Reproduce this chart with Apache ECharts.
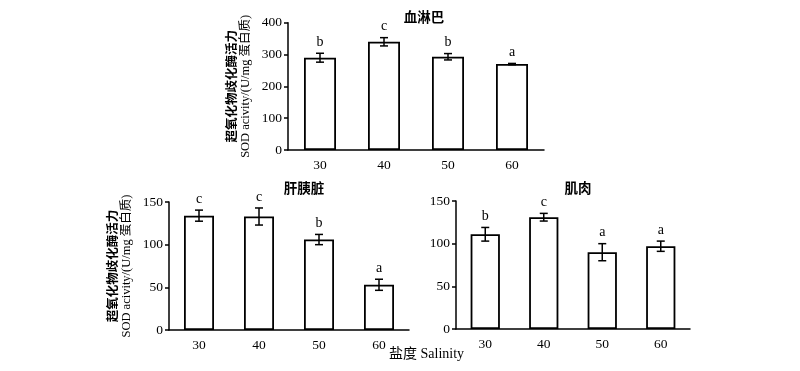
<!DOCTYPE html>
<html><head><meta charset="utf-8">
<script src="https://cdn.jsdelivr.net/npm/echarts@6/dist/echarts.min.js"></script>
<style>html,body{margin:0;padding:0;background:#fff}#c{width:800px;height:371px}</style>
</head><body><div id="c"></div>
<script>
var categories = ['30','40','50','60'];
var hemoValues = [290, 340, 293, 270];
var hemoErrors = [14, 13, 10, 2];
var hemoLetters = ['b','c','b','a'];
var hepaValues = [134, 133, 106, 53];
var hepaErrors = [6.5, 10, 6, 6.5];
var hepaLetters = ['c','c','b','a'];
var muscValues = [111, 131, 90, 97];
var muscErrors = [8, 4.5, 10, 6];
var muscLetters = ['b','c','a','a'];

var FONT = '"Liberation Serif","Noto Sans CJK SC",serif';
var chart = echarts.init(document.getElementById('c'));

function errData(vals, errs){
  return vals.map(function(v,i){return [i, v, errs[i]];});
}
function makeRender(letters){
  return function(params, api){
    var i = api.value(0), v = api.value(1), e = api.value(2);
    var top = api.coord([i, v+e]);
    var bot = api.coord([i, v-e]);
    var cap = 4;
    var style = {stroke:'#000', lineWidth:1.5};
    return {type:'group', children:[
      {type:'line', shape:{x1:top[0],y1:top[1],x2:bot[0],y2:bot[1]}, style:style},
      {type:'line', shape:{x1:top[0]-cap,y1:top[1],x2:top[0]+cap,y2:top[1]}, style:style},
      {type:'line', shape:{x1:bot[0]-cap,y1:bot[1],x2:bot[0]+cap,y2:bot[1]}, style:style},
      {type:'text', style:{text:letters[params.dataIndex], x:top[0], y:top[1]-4,
        textAlign:'center', textVerticalAlign:'bottom', font:'14px '+FONT, fill:'#000'}}
    ]};
  };
}

var yName = '{a|超氧化物歧化酶活力}\n{b|SOD acivity/(U/mg 蛋白质)}';
function yAxis(gi, max, interval, gap, showName){
  return {type:'value', gridIndex:gi, min:0, max:max, interval:interval,
    name: showName ? yName : '', nameLocation:'middle', nameRotate:90, nameGap:gap,
    nameTextStyle:{fontFamily:FONT, fontSize:12.5, color:'#000', lineHeight:13,
      rich:{a:{fontFamily:FONT, fontSize:12.5, fontWeight:'bold', color:'#000', lineHeight:13},
            b:{fontFamily:FONT, fontSize:12.5, color:'#000', lineHeight:13}}},
    axisLine:{show:true, lineStyle:{color:'#000', width:1.5}},
    axisTick:{show:true, inside:false, length:4, lineStyle:{color:'#000', width:1.5}},
    axisLabel:{fontFamily:FONT, fontSize:13.5, color:'#000', margin:6},
    splitLine:{show:false}};
}
function xAxis(gi){
  return {type:'category', gridIndex:gi, data:categories, boundaryGap:true,
    axisLine:{show:true, lineStyle:{color:'#000', width:1.5}},
    axisTick:{show:false},
    axisLabel:{fontFamily:FONT, fontSize:13.5, color:'#000', margin:9}};
}
function bars(gi, vals){
  return {type:'bar', xAxisIndex:gi, yAxisIndex:gi, data:vals, barWidth:'50%',
    itemStyle:{color:'#fff', borderColor:'#000', borderWidth:1.8}, silent:true};
}
function errs(gi, vals, es, letters){
  return {type:'custom', xAxisIndex:gi, yAxisIndex:gi, data:errData(vals, es),
    renderItem:makeRender(letters), silent:true, z:5};
}
var titleStyle = {fontFamily:FONT, fontSize:13.5, fontWeight:'bold', color:'#000'};

chart.setOption({
  animation:false,
  backgroundColor:'#fff',
  title:[
    {text:'血淋巴', left:419, top:7, textAlign:'center', textStyle:titleStyle},
    {text:'肝胰脏', left:299, top:178, textAlign:'center', textStyle:titleStyle},
    {text:'肌肉', left:573, top:178, textAlign:'center', textStyle:titleStyle}
  ],
  graphic:[{type:'text', left:389, top:347, style:{text:'盐度 Salinity', font:'14px '+FONT, fill:'#000'}}],
  grid:[
    {left:288, top:22.7, width:256, height:127.3},
    {left:169, top:202, width:240, height:128},
    {left:456, top:201, width:234, height:128}
  ],
  xAxis:[xAxis(0), xAxis(1), xAxis(2)],
  yAxis:[yAxis(0,400,100,36,true), yAxis(1,150,50,36,true), yAxis(2,150,50,36,false)],
  series:[
    bars(0, hemoValues), errs(0, hemoValues, hemoErrors, hemoLetters),
    bars(1, hepaValues), errs(1, hepaValues, hepaErrors, hepaLetters),
    bars(2, muscValues), errs(2, muscValues, muscErrors, muscLetters)
  ]
});
</script></body></html>
